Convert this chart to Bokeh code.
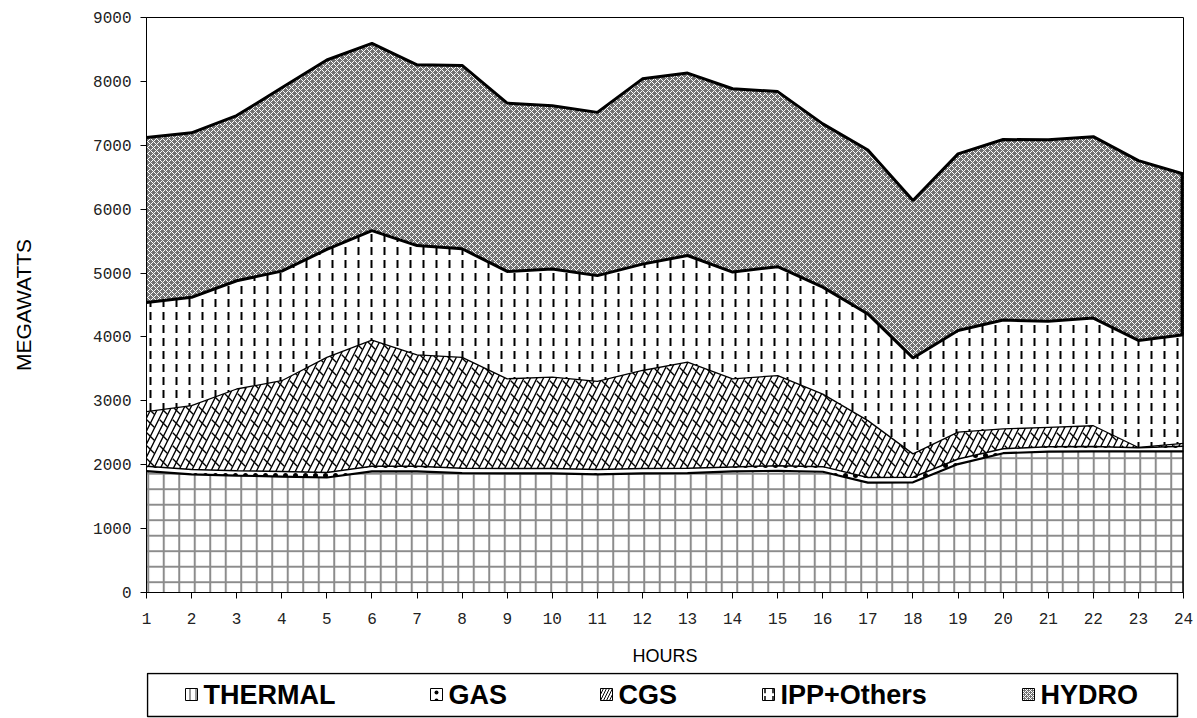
import numpy as np
from bokeh.plotting import figure
from bokeh.layouts import column
from bokeh.models import FixedTicker
from bokeh.core.properties import value
from bokeh.embed import file_html
from bokeh.resources import INLINE

# ---- data (MW per hour, per source) ----
hours = list(range(1, 25))
thermal = [1900, 1850, 1830, 1815, 1800, 1895, 1895, 1870, 1865, 1865, 1850, 1865,
           1870, 1895, 1905, 1890, 1720, 1725, 2010, 2180, 2205, 2210, 2210, 2210]
gas = [75, 75, 75, 80, 80, 80, 80, 75, 75, 75, 75, 75,
       75, 70, 80, 80, 80, 80, 80, 70, 75, 75, 55, 80]
cgs = [855, 1000, 1280, 1420, 1800, 1975, 1745, 1735, 1405, 1430, 1380, 1535,
       1660, 1380, 1410, 1135, 890, 365, 420, 310, 305, 325, 5, 45]
ipp = [1710, 1695, 1695, 1715, 1690, 1715, 1710, 1700, 1680, 1695, 1655, 1665,
       1670, 1670, 1705, 1675, 1670, 1500, 1590, 1705, 1660, 1685, 1675, 1700]
hydro = [2580, 2575, 2585, 2870, 2965, 2930, 2830, 2870, 2635, 2555, 2555, 2900,
         2855, 2870, 2740, 2555, 2565, 2465, 2765, 2825, 2840, 2840, 2815, 2515]
series_names = ["THERMAL", "GAS", "CGS", "IPP+Others", "HYDRO"]
y_ticks = [0, 1000, 2000, 3000, 4000, 5000, 6000, 7000, 8000, 9000]
x_ticks = hours

# ---- styles per series ----
styles = [
    dict(fill_color="white", hatch_pattern="+", hatch_color="#8c8c8c", hatch_scale=15.5, hatch_weight=2),
    dict(fill_color="white", hatch_pattern=".", hatch_color="black", hatch_scale=10, hatch_weight=1),
    dict(fill_color="white", hatch_pattern="/", hatch_color="black", hatch_scale=13, hatch_weight=1.4),
    dict(fill_color="white", hatch_pattern=":", hatch_color="black", hatch_scale=13, hatch_weight=2),
    dict(fill_color="#727272", hatch_pattern="x", hatch_color="white", hatch_scale=6, hatch_weight=1),
]
cgs_overlay = dict(fill_alpha=0, hatch_pattern="`", hatch_color="black", hatch_scale=13, hatch_weight=1.4)
legend_icon_styles = [
    dict(fill_color="white", hatch_pattern="|", hatch_color="#777777", hatch_scale=6, hatch_weight=1.5),
    dict(fill_color="white", hatch_pattern=".", hatch_color="black", hatch_scale=8, hatch_weight=1),
    dict(fill_color="white", hatch_pattern="/", hatch_color="black", hatch_scale=6, hatch_weight=1),
    dict(fill_color="white", hatch_pattern=":", hatch_color="black", hatch_scale=8, hatch_weight=1.5),
    dict(fill_color="#727272", hatch_pattern="x", hatch_color="white", hatch_scale=4, hatch_weight=1),
]
top_line_widths = [2.2, 1.5, 1.3, 3, 3]

layers = [thermal, gas, cgs, ipp, hydro]
tops = np.cumsum(np.array(layers, dtype=float), axis=0)
bottoms = np.vstack([np.zeros(len(hours)), tops[:-1]])

p = figure(width=1197, height=672, x_range=(1, 24), y_range=(0, 9000),
           output_backend="svg", toolbar_location=None,
           min_border_left=146, min_border_right=14, min_border_top=17,
           min_border_bottom=80)
p.background_fill_color = "white"
p.border_fill_color = "white"
p.outline_line_color = "black"
p.outline_line_width = 1
p.xgrid.visible = False
p.ygrid.visible = False

xs = hours + hours[::-1]

for i, st in enumerate(styles):
    ys = list(tops[i]) + list(bottoms[i][::-1])
    p.patch(xs, ys, line_color=None, **st)
    if i == 2:
        p.patch(xs, ys, line_color=None, **cgs_overlay)

for i, w in enumerate(top_line_widths):
    p.line(hours, list(tops[i]), line_color="black", line_width=w)

# right-hand edge of the stacked areas
p.line([hours[-1], hours[-1]], [0, tops[-1][-1]], line_color="black", line_width=2.5)
p.line([hours[-1], hours[-1]], [tops[3][-1], tops[4][-1]], line_color="black", line_width=6)

# axes
p.yaxis.ticker = FixedTicker(ticks=y_ticks)
p.xaxis.ticker = FixedTicker(ticks=x_ticks)
for ax in (p.xaxis[0], p.yaxis[0]):
    ax.major_tick_out = 6
    ax.major_tick_in = 0
    ax.minor_tick_out = 0
    ax.minor_tick_in = 0
    ax.axis_line_color = "black"
    ax.major_tick_line_color = "black"
    ax.major_label_text_font = "Liberation Mono"
    ax.major_label_text_font_size = "16px"
    ax.major_label_text_color = "#222222"
    ax.axis_label_text_font = "Liberation Sans"
    ax.axis_label_text_font_style = "normal"
    ax.axis_label_text_color = "black"
p.yaxis.major_label_standoff = 9
p.xaxis.major_label_standoff = 14
p.yaxis.axis_label = "MEGAWATTS"
p.xaxis.axis_label = "HOURS"
p.yaxis.axis_label_text_font_size = "21px"
p.xaxis.axis_label_text_font_size = "18px"
p.yaxis.axis_label_standoff = 55
p.xaxis.axis_label_standoff = 19

# ---- legend strip (drawn below the chart; its frame aligns with the chart's,
#      so x data units equal canvas pixels here) ----
leg = figure(width=1197, height=46, x_range=(146, 1183), y_range=(46, 0),
             output_backend="svg", toolbar_location=None,
             min_border_left=0, min_border_right=0, min_border_top=0, min_border_bottom=0)
leg.axis.visible = False
leg.xgrid.visible = False
leg.ygrid.visible = False
leg.outline_line_color = None
leg.background_fill_color = "white"
leg.border_fill_color = "white"

box_left, box_right, box_top, box_bottom = 147, 1177, 1, 44
icon_left = [185, 430, 600, 762, 1022]
text_left = [203, 448, 618, 780, 1040]
icon_size = 12
row_mid = 22

leg.quad(left=[box_left], right=[box_right], top=[box_top], bottom=[box_bottom],
         fill_alpha=0, line_color="black", line_width=1.5)
for i, st in enumerate(legend_icon_styles):
    leg.quad(left=[icon_left[i]], right=[icon_left[i] + icon_size],
             top=[row_mid - icon_size / 2], bottom=[row_mid + icon_size / 2],
             line_color="black", line_width=1, **st)
leg.text(x=text_left, y=[row_mid] * len(series_names), text=series_names,
         text_font=value("Liberation Sans"), text_font_style="bold",
         text_font_size="27px", text_baseline="middle", text_align="left",
         text_color="black")

layout = column(p, leg, spacing=0)
open("out.html", "w").write(file_html(layout, INLINE))
